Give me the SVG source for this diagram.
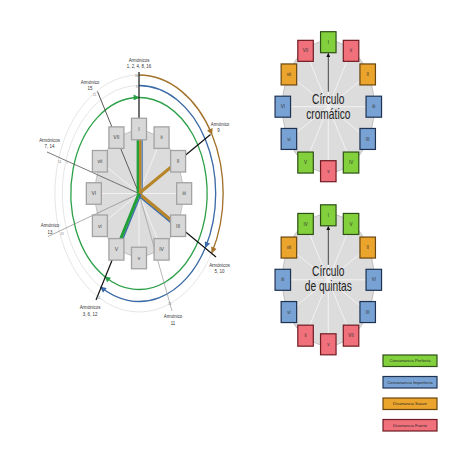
<svg xmlns="http://www.w3.org/2000/svg" width="452" height="452" viewBox="0 0 452 452">
<style>
text{font-family:"Liberation Sans",Arial,sans-serif}
.h{font-size:5.5px;fill:#333;text-anchor:middle}
.tk{font-size:2.8px;fill:#777;text-anchor:middle}
.lbx{fill:#d8d8d8;stroke:#a3a3a3;stroke-width:1.3}
.bt{font-size:5px;fill:#444;text-anchor:middle}
.rt{font-size:4.5px;fill:#333;text-anchor:middle}
.G{fill:#82d13c;stroke:#2f4f14;stroke-width:1.2}
.R{fill:#f0707c;stroke:#6e1c22;stroke-width:1.2}
.O{fill:#eba42c;stroke:#6a4610;stroke-width:1.2}
.B{fill:#78a2d4;stroke:#1f3252;stroke-width:1.2}
.sp{stroke:#f2f2f2;stroke-width:1}
.bg{fill:#dcdcdc;stroke:#b8b8b8;stroke-width:0.8}
.title{font-size:14px;fill:#222;text-anchor:middle}
.lg{font-size:4.2px;fill:#2a2a2a;text-anchor:middle}
.fa{fill:none;stroke:#dadada;stroke-width:0.7}
.arc{fill:none;stroke-width:1.3}
</style>
<defs>
<marker id="mg" viewBox="0 0 10 10" refX="9" refY="5" markerWidth="7" markerHeight="6" markerUnits="userSpaceOnUse" orient="auto"><path d="M0,0L10,5L0,10z" fill="#2ca048"/></marker>
<marker id="mb" viewBox="0 0 10 10" refX="9" refY="5" markerWidth="7" markerHeight="6" markerUnits="userSpaceOnUse" orient="auto"><path d="M0,0L10,5L0,10z" fill="#3b6aa8"/></marker>
<marker id="mo" viewBox="0 0 10 10" refX="9" refY="5" markerWidth="7" markerHeight="6" markerUnits="userSpaceOnUse" orient="auto"><path d="M0,0L10,5L0,10z" fill="#a4722a"/></marker>
<marker id="mk" viewBox="0 0 10 10" refX="9" refY="5" markerWidth="4.5" markerHeight="4" markerUnits="userSpaceOnUse" orient="auto"><path d="M0,0L10,5L0,10z" fill="#111"/></marker>
</defs>
<rect width="452" height="452" fill="#fff"/>

<!-- LEFT DIAGRAM -->
<g id="harmonic-wheel" transform="translate(139,193.5)">
  <ellipse class="fa" cx="0" cy="0" rx="76.7" ry="108"/>
  <ellipse class="fa" cx="0" cy="0" rx="84.1" ry="118.5"/>
  <g id="connectors-arcs">
    <path class="arc" stroke="#2ca048" d="M0,-96A68.16,96 0 1 1 -34.08,83.14" marker-end="url(#mg)"/>
    <path class="arc" stroke="#2ca048" d="M-34.08,83.14A68.16,96 0 0 1 0,-96" marker-end="url(#mg)"/>
    <path class="arc" stroke="#3b6aa8" d="M0,-108A76.68,108 0 0 1 66.41,54" marker-end="url(#mb)"/>
    <path class="arc" stroke="#3b6aa8" d="M66.41,54A76.68,108 0 0 1 -38.34,93.53" marker-end="url(#mb)"/>
    <path class="arc" stroke="#a4722a" d="M0,-118.5A84.14,118.5 0 0 1 72.87,-59.25" marker-end="url(#mo)"/>
    <path class="arc" stroke="#a4722a" d="M72.87,-59.25A84.14,118.5 0 0 1 72.87,59.25" marker-end="url(#mo)"/>
  </g>
  <ellipse class="bg" cx="0" cy="0" rx="44" ry="63"/>
  <g id="spokes-left">
    <line class="sp" x1="0" y1="0" x2="0" y2="-64.5"/>
    <line class="sp" x1="0" y1="0" x2="22.58" y2="-55.86"/>
    <line class="sp" x1="0" y1="0" x2="39.1" y2="-32.25"/>
    <line class="sp" x1="0" y1="0" x2="45.15" y2="0"/>
    <line class="sp" x1="0" y1="0" x2="39.1" y2="32.25"/>
    <line class="sp" x1="0" y1="0" x2="22.58" y2="55.86"/>
    <line class="sp" x1="0" y1="0" x2="0" y2="64.5"/>
    <line class="sp" x1="0" y1="0" x2="-22.58" y2="55.86"/>
    <line class="sp" x1="0" y1="0" x2="-39.1" y2="32.25"/>
    <line class="sp" x1="0" y1="0" x2="-45.15" y2="0"/>
    <line class="sp" x1="0" y1="0" x2="-39.1" y2="-32.25"/>
    <line class="sp" x1="0" y1="0" x2="-22.58" y2="-55.86"/>
  </g>
  <g id="connectors-harmonics">
    <line x1="0" y1="0" x2="0" y2="-121.5" stroke="#111" stroke-width="1.2"/>
    <line x1="0" y1="0" x2="-41.5" y2="-102" stroke="#444" stroke-width="0.9"/>
    <line x1="0" y1="0" x2="-92" y2="-41.5" stroke="#555" stroke-width="0.8"/>
    <line x1="0" y1="0" x2="-91" y2="43" stroke="#888" stroke-width="0.7"/>
    <line x1="0" y1="0" x2="-43" y2="106.5" stroke="#111" stroke-width="1.2"/>
    <line x1="0" y1="0" x2="33" y2="117.5" stroke="#999" stroke-width="0.7"/>
    <line x1="0" y1="0" x2="77" y2="63.5" stroke="#111" stroke-width="1.2"/>
    <line x1="0" y1="0" x2="71.5" y2="-59" stroke="#111" stroke-width="1.2"/>
  </g>
  <g id="connectors-intervals" stroke-linecap="butt">
    <line x1="3.1" y1="0" x2="3.1" y2="-64.5" stroke="#3c6eae" stroke-width="1.3"/>
    <line x1="1.2" y1="0" x2="1.2" y2="-64.5" stroke="#b8862a" stroke-width="2.4"/>
    <line x1="-1.2" y1="0" x2="-1.2" y2="-64.5" stroke="#22a03a" stroke-width="2.4"/>
    <line x1="0" y1="0" x2="39.1" y2="-32.25" stroke="#b8862a" stroke-width="3"/>
    <line x1="-1.3" y1="1.6" x2="37.8" y2="33.85" stroke="#3c6eae" stroke-width="1.6"/>
    <line x1="0" y1="0" x2="39.1" y2="32.25" stroke="#b8862a" stroke-width="3"/>
    <line x1="1.9" y1="0.8" x2="-20.7" y2="56.66" stroke="#3c6eae" stroke-width="1.5"/>
    <line x1="0" y1="0" x2="-22.58" y2="55.86" stroke="#22a03a" stroke-width="3"/>
  </g>
  <g id="n-I"><rect class="lbx" x="-7.5" y="-75.25" width="15" height="21.5"/><text class="bt" x="0" y="-62.7">I</text></g>
  <g id="n-ii"><rect class="lbx" x="15.08" y="-66.61" width="15" height="21.5"/><text class="bt" x="22.58" y="-54.06">ii</text></g>
  <g id="n-II"><rect class="lbx" x="31.6" y="-43" width="15" height="21.5"/><text class="bt" x="39.1" y="-30.45">II</text></g>
  <g id="n-iii"><rect class="lbx" x="37.65" y="-10.75" width="15" height="21.5"/><text class="bt" x="45.15" y="1.8">iii</text></g>
  <g id="n-III"><rect class="lbx" x="31.6" y="21.5" width="15" height="21.5"/><text class="bt" x="39.1" y="34.05">III</text></g>
  <g id="n-IV"><rect class="lbx" x="15.08" y="45.11" width="15" height="21.5"/><text class="bt" x="22.58" y="57.66">IV</text></g>
  <g id="n-v"><rect class="lbx" x="-7.5" y="53.75" width="15" height="21.5"/><text class="bt" x="0" y="66.3">v</text></g>
  <g id="n-V"><rect class="lbx" x="-30.08" y="45.11" width="15" height="21.5"/><text class="bt" x="-22.58" y="57.66">V</text></g>
  <g id="n-vi"><rect class="lbx" x="-46.6" y="21.5" width="15" height="21.5"/><text class="bt" x="-39.1" y="34.05">vi</text></g>
  <g id="n-VI"><rect class="lbx" x="-52.65" y="-10.75" width="15" height="21.5"/><text class="bt" x="-45.15" y="1.8">VI</text></g>
  <g id="n-vii"><rect class="lbx" x="-46.6" y="-43" width="15" height="21.5"/><text class="bt" x="-39.1" y="-30.45">vii</text></g>
  <g id="n-VII"><rect class="lbx" x="-30.08" y="-66.61" width="15" height="21.5"/><text class="bt" x="-22.58" y="-54.06">VII</text></g>
</g>
<g id="harmonic-labels">
  <text class="h" transform="translate(139,61.5) scale(0.8,1)">Armónicos</text>
  <text class="h" transform="translate(139,68) scale(0.8,1)">1, 2, 4, 8, 16</text>
  <text class="h" transform="translate(90,83.5) scale(0.8,1)">Armónico</text>
  <text class="h" transform="translate(90,90) scale(0.8,1)">15</text>
  <text class="h" transform="translate(49.5,141.5) scale(0.8,1)">Armónicos</text>
  <text class="h" transform="translate(49.5,148) scale(0.8,1)">7, 14</text>
  <text class="h" transform="translate(50,227) scale(0.8,1)">Armónico</text>
  <text class="h" transform="translate(50,233.5) scale(0.8,1)">13</text>
  <text class="h" transform="translate(90,309) scale(0.8,1)">Armónicos</text>
  <text class="h" transform="translate(90,315.5) scale(0.8,1)">3, 6, 12</text>
  <text class="h" transform="translate(173,317.5) scale(0.8,1)">Armónico</text>
  <text class="h" transform="translate(173,324.5) scale(0.8,1)">11</text>
  <text class="h" transform="translate(219.5,266.5) scale(0.8,1)">Armónicos</text>
  <text class="h" transform="translate(219.5,273) scale(0.8,1)">5, 10</text>
  <text class="h" transform="translate(220,125.5) scale(0.8,1)">Armónico</text>
  <text class="h" transform="translate(218.5,131.5) scale(0.8,1)">9</text>
  <text class="tk" x="136.5" y="76.5">16</text>
  <text class="tk" x="136.8" y="87.5">8</text>
  <text class="tk" x="94.5" y="95.5">15</text>
  <text class="tk" x="59.5" y="162.5">14</text>
  <text class="tk" x="67" y="164">7</text>
  <text class="tk" x="62" y="235">13</text>
  <text class="tk" x="98.8" y="298.5">12</text>
  <text class="tk" x="169.8" y="305">11</text>
</g>

<!-- CHROMATIC CIRCLE -->
<g id="circulo-cromatico" transform="translate(328.3,106.7)">
  <ellipse class="bg" cx="0" cy="0" rx="46" ry="66"/>
  <g>
    <line class="sp" x1="0" y1="0" x2="0" y2="-64.5"/><line class="sp" x1="0" y1="0" x2="22.75" y2="-55.86"/>
    <line class="sp" x1="0" y1="0" x2="39.4" y2="-32.25"/><line class="sp" x1="0" y1="0" x2="45.5" y2="0"/>
    <line class="sp" x1="0" y1="0" x2="39.4" y2="32.25"/><line class="sp" x1="0" y1="0" x2="22.75" y2="55.86"/>
    <line class="sp" x1="0" y1="0" x2="0" y2="64.5"/><line class="sp" x1="0" y1="0" x2="-22.75" y2="55.86"/>
    <line class="sp" x1="0" y1="0" x2="-39.4" y2="32.25"/><line class="sp" x1="0" y1="0" x2="-45.5" y2="0"/>
    <line class="sp" x1="0" y1="0" x2="-39.4" y2="-32.25"/><line class="sp" x1="0" y1="0" x2="-22.75" y2="-55.86"/>
  </g>
  <line x1="0" y1="-15" x2="0" y2="-53.3" stroke="#111" stroke-width="0.8" marker-end="url(#mk)"/>
  <g id="c-I"><rect class="G" x="-7.75" y="-75" width="15.5" height="21"/><text class="rt" x="0" y="-62.9">I</text></g>
  <g id="c-ii"><rect class="R" x="15" y="-66.36" width="15.5" height="21"/><text class="rt" x="22.75" y="-54.26">ii</text></g>
  <g id="c-II"><rect class="O" x="31.65" y="-42.75" width="15.5" height="21"/><text class="rt" x="39.4" y="-30.65">II</text></g>
  <g id="c-iii"><rect class="B" x="37.75" y="-10.5" width="15.5" height="21"/><text class="rt" x="45.5" y="1.6">iii</text></g>
  <g id="c-III"><rect class="B" x="31.65" y="21.75" width="15.5" height="21"/><text class="rt" x="39.4" y="33.85">III</text></g>
  <g id="c-IV"><rect class="G" x="15" y="45.36" width="15.5" height="21"/><text class="rt" x="22.75" y="57.46">IV</text></g>
  <g id="c-v"><rect class="R" x="-7.75" y="54" width="15.5" height="21"/><text class="rt" x="0" y="66.1">v</text></g>
  <g id="c-V"><rect class="G" x="-30.5" y="45.36" width="15.5" height="21"/><text class="rt" x="-22.75" y="57.46">V</text></g>
  <g id="c-vi"><rect class="B" x="-47.15" y="21.75" width="15.5" height="21"/><text class="rt" x="-39.4" y="33.85">vi</text></g>
  <g id="c-VI"><rect class="B" x="-53.25" y="-10.5" width="15.5" height="21"/><text class="rt" x="-45.5" y="1.6">VI</text></g>
  <g id="c-vii"><rect class="O" x="-47.15" y="-42.75" width="15.5" height="21"/><text class="rt" x="-39.4" y="-30.65">vii</text></g>
  <g id="c-VII"><rect class="R" x="-30.5" y="-66.36" width="15.5" height="21"/><text class="rt" x="-22.75" y="-54.26">VII</text></g>
  <text class="title" transform="translate(0,-2.7) scale(0.73,1)">Círculo</text>
  <text class="title" transform="translate(0,12.6) scale(0.73,1)">cromático</text>
</g>

<!-- CIRCLE OF FIFTHS -->
<g id="circulo-quintas" transform="translate(328.3,279.8)">
  <ellipse class="bg" cx="0" cy="0" rx="46" ry="66"/>
  <g>
    <line class="sp" x1="0" y1="0" x2="0" y2="-64.5"/><line class="sp" x1="0" y1="0" x2="22.75" y2="-55.86"/>
    <line class="sp" x1="0" y1="0" x2="39.4" y2="-32.25"/><line class="sp" x1="0" y1="0" x2="45.5" y2="0"/>
    <line class="sp" x1="0" y1="0" x2="39.4" y2="32.25"/><line class="sp" x1="0" y1="0" x2="22.75" y2="55.86"/>
    <line class="sp" x1="0" y1="0" x2="0" y2="64.5"/><line class="sp" x1="0" y1="0" x2="-22.75" y2="55.86"/>
    <line class="sp" x1="0" y1="0" x2="-39.4" y2="32.25"/><line class="sp" x1="0" y1="0" x2="-45.5" y2="0"/>
    <line class="sp" x1="0" y1="0" x2="-39.4" y2="-32.25"/><line class="sp" x1="0" y1="0" x2="-22.75" y2="-55.86"/>
  </g>
  <line x1="0" y1="-15" x2="0" y2="-53.3" stroke="#111" stroke-width="0.8" marker-end="url(#mk)"/>
  <g id="q-I"><rect class="G" x="-7.75" y="-75" width="15.5" height="21"/><text class="rt" x="0" y="-62.9">I</text></g>
  <g id="q-V"><rect class="G" x="15" y="-66.36" width="15.5" height="21"/><text class="rt" x="22.75" y="-54.26">V</text></g>
  <g id="q-II"><rect class="O" x="31.65" y="-42.75" width="15.5" height="21"/><text class="rt" x="39.4" y="-30.65">II</text></g>
  <g id="q-VI"><rect class="B" x="37.75" y="-10.5" width="15.5" height="21"/><text class="rt" x="45.5" y="1.6">VI</text></g>
  <g id="q-III"><rect class="B" x="31.65" y="21.75" width="15.5" height="21"/><text class="rt" x="39.4" y="33.85">III</text></g>
  <g id="q-VII"><rect class="R" x="15" y="45.36" width="15.5" height="21"/><text class="rt" x="22.75" y="57.46">VII</text></g>
  <g id="q-v"><rect class="R" x="-7.75" y="54" width="15.5" height="21"/><text class="rt" x="0" y="66.1">v</text></g>
  <g id="q-ii"><rect class="R" x="-30.5" y="45.36" width="15.5" height="21"/><text class="rt" x="-22.75" y="57.46">ii</text></g>
  <g id="q-vi"><rect class="B" x="-47.15" y="21.75" width="15.5" height="21"/><text class="rt" x="-39.4" y="33.85">vi</text></g>
  <g id="q-iii"><rect class="B" x="-53.25" y="-10.5" width="15.5" height="21"/><text class="rt" x="-45.5" y="1.6">iii</text></g>
  <g id="q-vii"><rect class="O" x="-47.15" y="-42.75" width="15.5" height="21"/><text class="rt" x="-39.4" y="-30.65">vii</text></g>
  <g id="q-IV"><rect class="G" x="-30.5" y="-66.36" width="15.5" height="21"/><text class="rt" x="-22.75" y="-54.26">IV</text></g>
  <text class="title" transform="translate(0,-3.8) scale(0.73,1)">Círculo</text>
  <text class="title" transform="translate(0,11) scale(0.73,1)">de quintas</text>
</g>

<!-- LEGEND -->
<g id="legend">
  <g id="lg-cp"><rect class="G" x="383" y="355" width="54" height="11.5"/><text class="lg" x="410" y="362.3">Consonancia Perfecta</text></g>
  <g id="lg-ci"><rect class="B" x="383" y="376.5" width="54" height="11.5"/><text class="lg" x="410" y="383.8">Consonancia Imperfecta</text></g>
  <g id="lg-ds"><rect class="O" x="383" y="398" width="54" height="11.5"/><text class="lg" x="410" y="405.3">Disonancia Suave</text></g>
  <g id="lg-df"><rect class="R" x="383" y="419.5" width="54" height="11.5"/><text class="lg" x="410" y="426.8">Disonancia Fuerte</text></g>
</g>
</svg>
